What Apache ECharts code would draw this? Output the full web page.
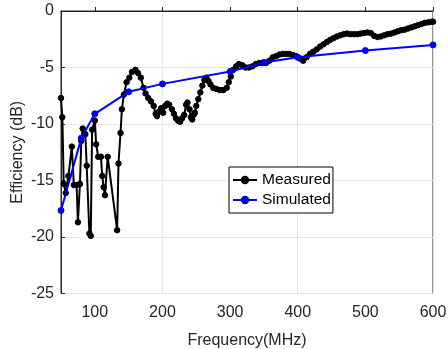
<!DOCTYPE html>
<html>
<head>
<meta charset="utf-8">
<script src="https://cdn.jsdelivr.net/npm/echarts@6/dist/echarts.min.js"></script>
<style>html,body{margin:0;padding:0;background:#fff;}#c{width:448px;height:349px;}</style>
</head>
<body>
<div id="c"></div>
<script>
var measuredFreq = [50,52,54,57,61,66,69,73,75,78,80,82,86,88,92,94,96,100,102,105,109,111,113,115,119,133,135,138,140,143,147,151,155,160,164,168,172,175,179,183,187,190,192,195,198,201,204,207,210,214,217,220,223,226,229,232,235,237,240,242,244,246,248,250,253,256,259,262,265,268,271,275,280,285,290,295,298,301,305,309,313,318,323,328,333,338,343,348,353,358,363,368,373,378,383,388,393,398,403,408,413,418,423,428,433,438,443,448,453,458,463,468,473,478,483,488,493,498,503,508,513,518,523,528,533,538,543,548,553,558,563,568,573,578,583,588,593,598,600];
var measuredEff = [-7.7,-9.4,-15.3,-16.1,-14.6,-12.0,-15.4,-15.4,-18.7,-15.3,-11.5,-10.4,-10.9,-13.7,-19.7,-19.9,-10.5,-9.7,-11.8,-12.9,-12.9,-14.6,-15.6,-16.3,-12.9,-19.4,-13.5,-10.8,-8.7,-7.4,-6.3,-5.9,-5.4,-5.2,-5.5,-5.9,-6.8,-7.3,-7.7,-8.0,-8.4,-9.1,-9.3,-8.9,-8.6,-9.0,-8.4,-8.2,-8.3,-8.7,-9.1,-9.5,-9.7,-9.8,-9.5,-9.2,-8.3,-8.1,-8.7,-9.4,-9.6,-9.2,-9.0,-8.4,-7.8,-7.2,-6.6,-6.1,-5.9,-6.2,-6.5,-6.8,-6.9,-7.0,-7.0,-6.8,-6.3,-5.8,-5.2,-4.9,-4.7,-4.8,-5.0,-5.0,-4.9,-4.7,-4.6,-4.6,-4.6,-4.4,-4.1,-4.0,-3.85,-3.8,-3.8,-3.8,-3.9,-4.0,-4.2,-4.4,-4.1,-3.8,-3.6,-3.4,-3.15,-2.95,-2.75,-2.55,-2.4,-2.25,-2.15,-2.05,-2.0,-2.05,-2.05,-2.05,-2.0,-1.95,-1.9,-1.95,-2.2,-2.3,-2.25,-2.15,-2.05,-2.0,-1.9,-1.8,-1.7,-1.65,-1.55,-1.45,-1.35,-1.25,-1.15,-1.05,-1.0,-0.95,-0.95];
var simulatedFreq = [50,80,100,150,200,300,350,400,500,600];
var simulatedEff = [-17.65,-11.25,-9.1,-7.15,-6.45,-5.35,-4.55,-4.1,-3.5,-3.0];
var xTicks = [100,200,300,400,500,600];
var yTicks = [0,-5,-10,-15,-20,-25];

function pairs(xs, ys){ return xs.map(function(x,i){ return [x, ys[i]]; }); }

var font = 'Liberation Sans, Arial, Helvetica, sans-serif';
var txt = '#262626';
var chart = echarts.init(document.getElementById('c'));
chart.setOption({
  animation: false,
  backgroundColor: '#fff',
  grid: { left: 61, right: 15, top: 11, bottom: 55.5, outerBoundsMode: 'none', containLabel: false, show: true, borderColor: '#262626', borderWidth: 1, backgroundColor: 'transparent' },
  legend: {
    left: 229, top: 167, orient: 'vertical',
    backgroundColor: '#fff', borderColor: '#000', borderWidth: 1,
    padding: [5, 2, 5, 3], itemGap: 4, itemWidth: 24, itemHeight: 8, itemTextGap: 3,
    textStyle: { fontFamily: font, fontSize: 15.5, color: '#000' },
    data: ['Measured', 'Simulated']
  },
  xAxis: {
    type: 'value', min: 50, max: 600, interval: 50,
    name: 'Frequency(MHz)', nameLocation: 'middle', nameGap: 39, nameMoveOverlap: false,
    nameTextStyle: { fontFamily: font, fontSize: 16, color: txt },
    axisLine: { lineStyle: { color: '#262626', width: 1 } },
    axisTick: { show: true, inside: true, length: 4, customValues: xTicks, lineStyle: { color: '#262626' } },
    axisLabel: { customValues: xTicks, fontFamily: font, fontSize: 16, color: txt, margin: 11 },
    splitLine: { show: true, lineStyle: { color: ['transparent', '#e6e6e6'], width: 1 } }
  },
  yAxis: {
    type: 'value', min: -25, max: 0, interval: 5,
    name: 'Efficiency (dB)', nameLocation: 'middle', nameGap: 35, nameRotate: 90, nameMoveOverlap: false,
    nameTextStyle: { fontFamily: font, fontSize: 16, color: txt },
    axisLine: { show: true, lineStyle: { color: '#262626', width: 1 } },
    axisTick: { show: true, inside: true, length: 4, lineStyle: { color: '#262626' } },
    axisLabel: { fontFamily: font, fontSize: 16, color: txt, margin: 7 },
    splitLine: { show: true, lineStyle: { color: '#e6e6e6', width: 1 } }
  },
  series: [
    {
      name: 'Measured', type: 'line', data: pairs(measuredFreq, measuredEff),
      symbol: 'circle', symbolSize: 5.5, showSymbol: true,
      lineStyle: { color: '#000', width: 2 },
      itemStyle: { color: '#000', borderColor: '#000', borderWidth: 1 },
      z: 3
    },
    {
      name: 'Simulated', type: 'line', data: pairs(simulatedFreq, simulatedEff),
      symbol: 'circle', symbolSize: 6, showSymbol: true,
      lineStyle: { color: '#0000ff', width: 2 },
      itemStyle: { color: '#0000ff', borderColor: '#0000ff', borderWidth: 1 },
      z: 4
    }
  ]
});
</script>
</body>
</html>
